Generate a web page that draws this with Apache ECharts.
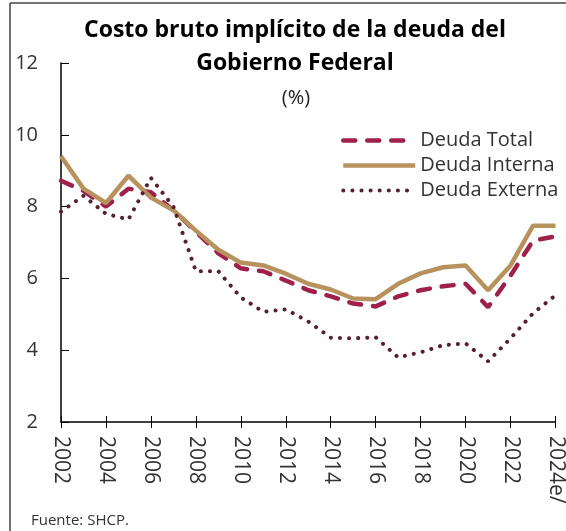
<!DOCTYPE html>
<html>
<head>
<meta charset="utf-8">
<script src="https://cdn.jsdelivr.net/npm/echarts@6/dist/echarts.min.js"></script>
<style>
html, body { margin: 0; padding: 0; background: #fff; }
#chart { width: 566px; height: 531px; }
</style>
</head>
<body>
<div id="chart"></div>
<script>
var years = ['2002','2003','2004','2005','2006','2007','2008','2009','2010','2011','2012','2013',
             '2014','2015','2016','2017','2018','2019','2020','2021','2022','2023','2024e/'];
var deudaTotal   = [8.72, 8.44, 8.0, 8.5, 8.4, 7.9, 7.3, 6.7, 6.28, 6.2, 5.94, 5.67,
                    5.5, 5.3, 5.22, 5.5, 5.67, 5.78, 5.85, 5.2, 6.08, 7.05, 7.17];
var deudaInterna = [9.4, 8.5, 8.1, 8.86, 8.25, 7.9, 7.33, 6.8, 6.44, 6.36, 6.13, 5.85,
                    5.69, 5.44, 5.42, 5.85, 6.14, 6.31, 6.36, 5.67, 6.36, 7.47, 7.47];
var deudaExterna = [7.86, 8.3, 7.8, 7.64, 8.8, 8.0, 6.2, 6.2, 5.47, 5.07, 5.14, 4.8,
                    4.35, 4.33, 4.36, 3.8, 3.94, 4.14, 4.19, 3.69, 4.33, 5.03, 5.53];

var dom = document.getElementById('chart');
var myChart = echarts.init(dom);
var font = 'Open Sans';

var cTotal = '#a0204c', cInterna = '#b8925e', cExterna = '#57202d';
var styleTotal = { color: cTotal, width: 4.5, type: [12, 12], cap: 'round' };
var styleInterna = { color: cInterna, width: 4.5 };
var styleExterna = { color: cExterna, width: 4, type: [0.1, 9], cap: 'round' };

var option = {
    animation: false,
    textStyle: { fontFamily: font },
    title: [
        {
            text: 'Costo bruto implícito de la deuda del\nGobierno Federal',
            left: 290, top: 9, textAlign: 'center',
            textStyle: { fontSize: 23, fontWeight: 'bold', color: '#000', lineHeight: 33, fontFamily: font }
        },
        {
            text: '(%)',
            left: 291, top: 83, textAlign: 'center',
            textStyle: { fontSize: 20, fontWeight: 'normal', color: '#222', fontFamily: font }
        },
        {
            text: 'Fuente: SHCP.',
            left: 26, top: 508,
            textStyle: { fontSize: 15, fontWeight: 'normal', color: '#333', fontFamily: font }
        }
    ],
    legend: {
        orient: 'vertical',
        left: 336, top: 125,
        itemWidth: 72, itemHeight: 10, itemGap: 4,
        itemStyle: { opacity: 0 },
        textStyle: { fontSize: 20, lineHeight: 21, color: '#333', fontFamily: font, padding: [0, 0, 0, 0] },
        data: [
            { name: 'Deuda Total', lineStyle: styleTotal },
            { name: 'Deuda Interna', lineStyle: styleInterna },
            { name: 'Deuda Externa', lineStyle: styleExterna }
        ]
    },
    grid: { left: 61, right: 5, top: 63, bottom: 109 },
    xAxis: [
        {
            type: 'category',
            boundaryGap: false,
            data: years,
            axisLine: { lineStyle: { color: '#000', width: 1.5 } },
            axisTick: { show: true, interval: 1, length: 6, lineStyle: { color: '#000' } },
            axisLabel: {
                interval: 1, rotate: -90, margin: 14, fontSize: 21, color: '#333',
                fontFamily: font
            }
        },
        {
            type: 'category',
            position: 'bottom',
            boundaryGap: false,
            data: years,
            axisLine: { show: false },
            axisTick: { show: true, inside: true, interval: 1, length: 6, lineStyle: { color: '#000' } },
            axisLabel: { show: false }
        }
    ],
    yAxis: {
        type: 'value',
        min: 2, max: 12, interval: 2,
        splitLine: { show: false },
        axisLine: { show: true, lineStyle: { color: '#000', width: 1.5 } },
        axisTick: { show: true, inside: true, length: 8, lineStyle: { color: '#000' } },
        axisLabel: { margin: 23, fontSize: 20, color: '#333', fontFamily: font }
    },
    graphic: [
        { type: 'line', shape: { x1: 10, y1: 3, x2: 566, y2: 3 }, style: { stroke: '#444', lineWidth: 1.5 } },
        { type: 'line', shape: { x1: 10, y1: 3, x2: 10, y2: 531 }, style: { stroke: '#444', lineWidth: 1.5 } }
    ],
    series: [
        {
            name: 'Deuda Total',
            type: 'line',
            data: deudaTotal,
            symbol: 'none',
            itemStyle: { color: cTotal },
            lineStyle: styleTotal
        },
        {
            name: 'Deuda Interna',
            type: 'line',
            data: deudaInterna,
            symbol: 'none',
            itemStyle: { color: cInterna },
            lineStyle: styleInterna
        },
        {
            name: 'Deuda Externa',
            type: 'line',
            data: deudaExterna,
            symbol: 'none',
            itemStyle: { color: cExterna },
            lineStyle: styleExterna
        }
    ]
};

myChart.setOption(option);
</script>
</body>
</html>
